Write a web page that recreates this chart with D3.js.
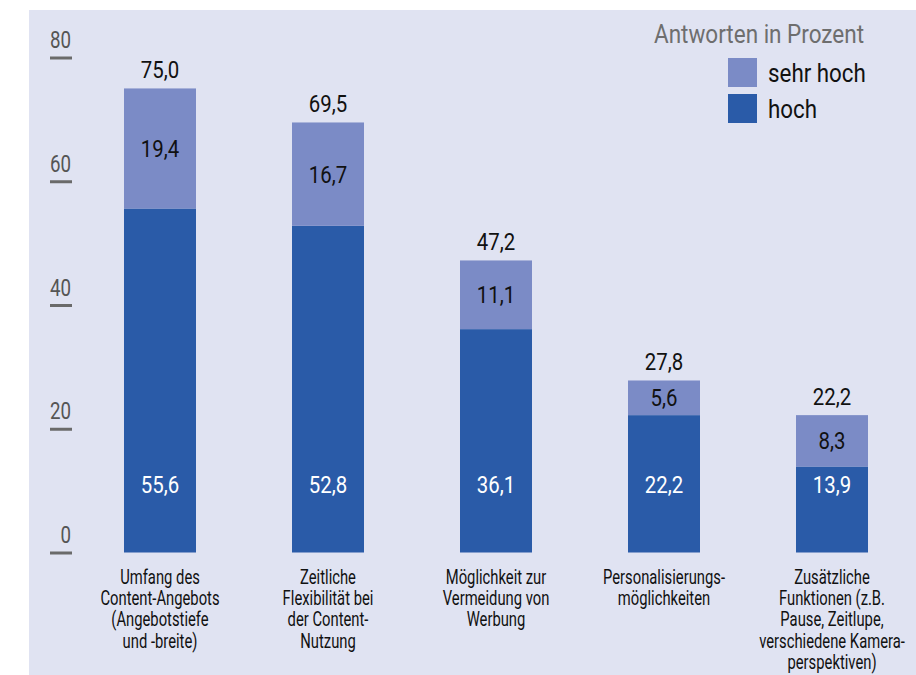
<!DOCTYPE html>
<html>
<head>
<meta charset="utf-8">
<script src="https://cdn.jsdelivr.net/npm/d3@7"></script>
<style>
  html, body { margin: 0; padding: 0; background: #ffffff; }
  svg { display: block; }
  text { font-family: Roboto, "Liberation Sans", sans-serif; }
</style>
</head>
<body>
<svg id="chart" width="916" height="675"></svg>
<script>
// Categories (multi-line labels) and stacked values in percent
const categories = [
  ["Umfang des", "Content-Angebots", "(Angebotstiefe", "und -breite)"],
  ["Zeitliche", "Flexibilität bei", "der Content-", "Nutzung"],
  ["Möglichkeit zur", "Vermeidung von", "Werbung"],
  ["Personalisierungs-", "möglichkeiten"],
  ["Zusätzliche", "Funktionen (z.B.", "Pause, Zeitlupe,", "verschiedene Kamera-", "perspektiven)"]
];
const hoch     = [55.6, 52.8, 36.1, 22.2, 13.9];
const sehrHoch = [19.4, 16.7, 11.1, 5.6, 8.3];
const totals   = [75.0, 69.5, 47.2, 27.8, 22.2];
const yTicks   = [0, 20, 40, 60, 80];
const seriesNames = ["sehr hoch", "hoch"];

const colors = { "hoch": "#2a5ba8", "sehr hoch": "#7b8bc6" };
const fmt = v => d3.format(".1f")(v).replace(".", ",");

// condensed look: horizontally squeezed text anchored at (x, y)
const place = (x, y, s) => `translate(${x},${y}) scale(${s},1)`;

const svg = d3.select("#chart");

// panel background
svg.append("rect")
  .attr("x", 29).attr("y", 10)
  .attr("width", 887).attr("height", 665)
  .attr("fill", "#e0e3f2");

const x = d3.scaleBand()
  .domain(d3.range(categories.length))
  .range([76, 916])
  .paddingInner(1 - 72 / 168)
  .paddingOuter(0.2857);
const cx = i => x(i) + x.bandwidth() / 2;

const y = d3.scaleLinear().domain([0, 80]).range([552.5, 57.5]);

// y axis: short grey dashes with numbers above them
const yAxis = svg.append("g")
  .attr("transform", "translate(72,0)")
  .call(d3.axisLeft(y).tickValues(yTicks).tickSize(22).tickFormat(d3.format("d")));
yAxis.select(".domain").remove();
yAxis.selectAll(".tick line")
  .attr("stroke", "#6a6a6a").attr("stroke-width", 3);
yAxis.selectAll(".tick text")
  .attr("x", null).attr("dy", null)
  .attr("transform", place(-1, -10, 0.78))
  .attr("text-anchor", "end")
  .attr("fill", "#555")
  .style("font-size", "24px");

// stacked data
const rows = categories.map((c, i) => ({ i, "hoch": hoch[i], "sehr hoch": sehrHoch[i] }));
const stack = d3.stack().keys(["hoch", "sehr hoch"])(rows);

svg.append("g").selectAll("g")
  .data(stack).join("g")
  .attr("fill", d => colors[d.key])
  .selectAll("rect")
  .data(d => d)
  .join("rect")
  .attr("x", d => x(d.data.i))
  .attr("width", x.bandwidth())
  .attr("y", d => y(d[1]))
  .attr("height", d => y(d[0]) - y(d[1]));

// labels for "hoch" (white, near the bar foot)
svg.append("g").selectAll("text")
  .data(rows).join("text")
  .attr("transform", d => place(cx(d.i), y(0) - 60, 0.85))
  .attr("text-anchor", "middle")
  .attr("fill", "#ffffff")
  .style("font-size", "24px")
  .text(d => fmt(d["hoch"]));

// labels for "sehr hoch" (black, segment centre)
svg.append("g").selectAll("text")
  .data(stack[1]).join("text")
  .attr("transform", d => place(cx(d.data.i), (y(d[0]) + y(d[1])) / 2, 0.85))
  .attr("dy", "0.36em")
  .attr("text-anchor", "middle")
  .attr("fill", "#111")
  .style("font-size", "24px")
  .text(d => fmt(d.data["sehr hoch"]));

// totals above bars
svg.append("g").selectAll("text")
  .data(totals).join("text")
  .attr("transform", (d, i) => place(cx(i), y(d) - 10, 0.85))
  .attr("text-anchor", "middle")
  .attr("fill", "#111")
  .style("font-size", "24px")
  .text(d => fmt(d));

// category labels
svg.append("g").selectAll("text")
  .data(categories).join("text")
  .attr("transform", (d, i) => place(cx(i), 584, 0.74))
  .attr("text-anchor", "middle")
  .attr("fill", "#111")
  .style("font-size", "20px")
  .selectAll("tspan")
  .data(d => d).join("tspan")
  .attr("x", 0)
  .attr("dy", (d, j) => j === 0 ? 0 : 21.2)
  .text(d => d);

// legend
svg.append("text")
  .attr("transform", place(864, 43, 0.9))
  .attr("text-anchor", "end")
  .attr("fill", "#6e6e6e")
  .style("font-size", "25px")
  .text("Antworten in Prozent");

const legend = svg.append("g").selectAll("g")
  .data(seriesNames).join("g")
  .attr("transform", (d, i) => `translate(728,${58 + i * 36})`);
legend.append("rect")
  .attr("width", 29).attr("height", 29)
  .attr("fill", d => colors[d]);
legend.append("text")
  .attr("transform", place(40, 24, 0.86))
  .attr("fill", "#111")
  .style("font-size", "26px")
  .text(d => d);
</script>
</body>
</html>
